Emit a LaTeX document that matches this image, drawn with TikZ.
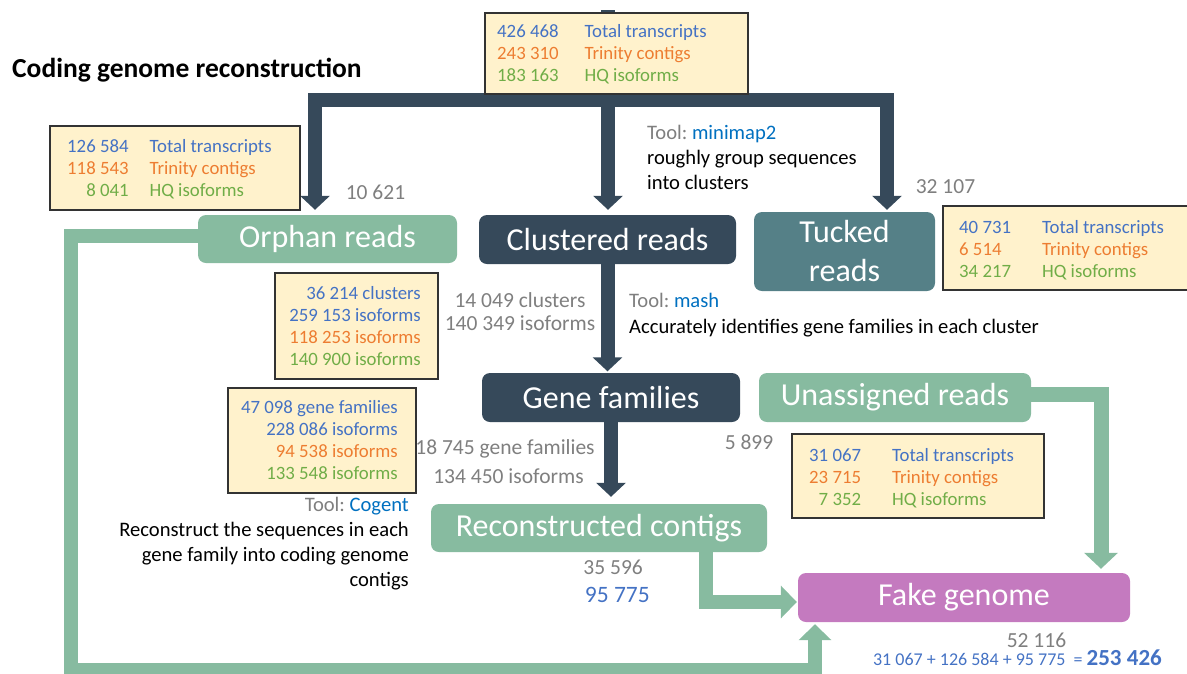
\documentclass[tikz,border=0pt]{standalone}
\usepackage{fontspec}
\setmainfont{Carlito}
\frenchspacing
\usetikzlibrary{arrows.meta}
\definecolor{dark}{HTML}{36495A}
\definecolor{lgreen}{HTML}{87BBA0}
\definecolor{teal}{HTML}{558087}
\definecolor{magenta}{HTML}{C47ABF}
\definecolor{infofill}{HTML}{FFF2CC}
\definecolor{tblue}{HTML}{4472C4}
\definecolor{torange}{HTML}{ED7D31}
\definecolor{tgreen}{HTML}{70AD47}
\definecolor{tgray}{HTML}{7F7F7F}
\definecolor{toolblue}{HTML}{0070C0}
\begin{document}
\begin{tikzpicture}[x=1pt,y=-1pt,
  mainbox/.style={rounded corners=8pt, text=white, inner sep=0pt,
    font=\fontsize{32}{39}\selectfont, align=center},
  infobox/.style={draw=black!80, line width=1.3pt, fill=infofill, inner sep=0pt},
  infotext/.style={inner sep=0pt, anchor=base west, font=\fontsize{18.8}{22}\selectfont},
  graytext/.style={inner sep=0pt, anchor=base, text=tgray, font=\fontsize{21.5}{23}\selectfont},
  tooltext/.style={inner sep=0pt, font=\fontsize{20.6}{25}\selectfont},
  darkarrow/.style={draw=dark, line width=14pt, line join=miter,
    -{Triangle[width=29pt,length=14pt]}},
  greenarrow/.style={draw=lgreen, line width=14pt, line join=miter,
    -{Triangle[width=32pt,length=16pt]}}
]
\useasboundingbox (0,0) rectangle (1187,673);

% coordinates of connector bends
\coordinate (c0) at (608,10);
\coordinate (c1) at (315,100);
\coordinate (c2) at (887,100);
\coordinate (o1) at (71,236);
\coordinate (o2) at (71,670);
\coordinate (o3) at (815,670);
\coordinate (u1) at (1101,394);
\coordinate (r1) at (706,602);

% main boxes
\node[mainbox, fill=lgreen, minimum width=259pt, minimum height=48pt] (orphan) at (327.5,239) {Orphan reads};
\node[mainbox, fill=dark, minimum width=257pt, minimum height=49pt] (clustered) at (607.5,239.5) {Clustered reads};
\node[mainbox, fill=teal, minimum width=181pt, minimum height=79pt] (tucked) at (844.5,251.5) {Tucked\\reads};
\node[mainbox, fill=dark, minimum width=258pt, minimum height=49pt] (gene) at (611,397.5) {Gene families};
\node[mainbox, fill=lgreen, minimum width=272pt, minimum height=49pt] (unassigned) at (895,397.5) {Unassigned reads};
\node[mainbox, fill=lgreen, minimum width=336pt, minimum height=48pt] (recon) at (599,528) {Reconstructed contigs};
\node[mainbox, fill=magenta, minimum width=332pt, minimum height=49pt] (fake) at (964,597.5) {Fake genome};

% dark connectors
\draw[darkarrow, shorten >=5pt] (c0) -- (clustered.north -| c0);
\draw[darkarrow, {Triangle[width=29pt,length=14pt]}-{Triangle[width=29pt,length=14pt]}, shorten <=5pt, shorten >=2pt]
  (orphan.north -| c1) -- (c1) -- (c2) -- (tucked.north -| c2);
\draw[darkarrow, shorten >=1.5pt] (clustered.south) -- (clustered.south |- gene.north);
\draw[darkarrow, shorten >=7pt] (gene.south) -- (gene.south |- recon.north);

% green connectors
\draw[greenarrow, shorten >=2pt] (orphan.west |- o1) -- (o1) -- (o2) -- (o3) -- (fake.south -| o3);
\draw[greenarrow, line width=15pt, -{Triangle[width=33pt,length=16pt]}, shorten >=4pt] (unassigned.east |- u1) -- (u1) -- (fake.north -| u1);
\draw[greenarrow, shorten >=1pt] (recon.south -| r1) -- (r1) -- (fake.west |- r1);

% info boxes
\node[infobox, minimum width=263pt, minimum height=81pt] (topbox) at (616.5,53.5) {};
\node[infotext] (toptext) at (497,37) {\begin{tabular}[t]{@{}r@{\hspace{26pt}}l@{}}
  \color{tblue}426 468 & \color{tblue}Total transcripts\\
  \color{torange}243 310 & \color{torange}Trinity contigs\\
  \color{tgreen}183 163 & \color{tgreen}HQ isoforms
\end{tabular}};

\node[infobox, minimum width=250pt, minimum height=84pt] (orphanbox) at (175,168) {};
\node[infotext] (orphantext) at (67,152.5) {\begin{tabular}[t]{@{}r@{\hspace{21pt}}l@{}}
  \color{tblue}126 584 & \color{tblue}Total transcripts\\
  \color{torange}118 543 & \color{torange}Trinity contigs\\
  \color{tgreen}8 041 & \color{tgreen}HQ isoforms
\end{tabular}};

\node[infobox, minimum width=250pt, minimum height=84pt] (tuckedbox) at (1068,248) {};
\node[infotext] (tuckedtext) at (959,233.5) {\begin{tabular}[t]{@{}l@{\hspace{31pt}}l@{}}
  \color{tblue}40 731 & \color{tblue}Total transcripts\\
  \color{torange}6 514 & \color{torange}Trinity contigs\\
  \color{tgreen}34 217 & \color{tgreen}HQ isoforms
\end{tabular}};

\node[infobox, minimum width=252pt, minimum height=84pt] (unassbox) at (918,476) {};
\node[infotext] (unasstext) at (809,461.5) {\begin{tabular}[t]{@{}r@{\hspace{31pt}}l@{}}
  \color{tblue}31 067 & \color{tblue}Total transcripts\\
  \color{torange}23 715 & \color{torange}Trinity contigs\\
  \color{tgreen}7 352 & \color{tgreen}HQ isoforms
\end{tabular}};

\node[infobox, minimum width=163pt, minimum height=106pt] (clusterbox) at (356.5,326) {};
\node[infotext, anchor=base east] (clustertext) at (421,299.5) {\begin{tabular}[t]{@{}r@{}}
  \color{tblue}36 214 clusters\\
  \color{tblue}259 153 isoforms\\
  \color{torange}118 253 isoforms\\
  \color{tgreen}140 900 isoforms
\end{tabular}};

\node[infobox, minimum width=188pt, minimum height=105pt] (genebox) at (322,440.5) {};
\node[infotext, anchor=base east] (genetext) at (398,413.5) {\begin{tabular}[t]{@{}r@{}}
  \color{tblue}47 098 gene families\\
  \color{tblue}228 086 isoforms\\
  \color{torange}94 538 isoforms\\
  \color{tgreen}133 548 isoforms
\end{tabular}};

% title
\node[inner sep=0pt, anchor=base west, font=\fontsize{27.5}{30}\selectfont\bfseries] (title) at (12,77) {Coding genome reconstruction};

% gray counts
\node[graytext] (n10621) at (375.5,199) {10 621};
\node[graytext] (n32107) at (945.5,193) {32 107};
\node[graytext] (nclust) at (520,307) {\begin{tabular}[t]{@{}c@{}}14 049 clusters\\140 349 isoforms\end{tabular}};
\node[graytext] (ngf) at (505,454) {18 745 gene families};
\node[graytext] (niso) at (508.5,483) {134 450 isoforms};
\node[graytext] (n5899) at (749,449) {5 899};
\node[graytext, anchor=base east] (n35596) at (643,574) {35 596};
\node[graytext, anchor=base east, text=tblue, font=\fontsize{23.5}{26}\selectfont] (n95775) at (650,602) {95 775};
\node[graytext] (n52116) at (1036.5,647) {52 116};
\node[inner sep=0pt, anchor=base east, text=tblue, font=\fontsize{18}{20}\selectfont] (nsum) at (1162,665)
  {31 067 + 126 584 + 95 775 \ = {\fontsize{23}{24}\selectfont\bfseries 253 426}};

% tool texts
\node[tooltext, anchor=base west] (tool1) at (647,139) {\begin{tabular}[t]{@{}l@{}}
  {\color{tgray}Tool:} {\color{toolblue}minimap2}\\
  roughly group sequences\\
  into clusters
\end{tabular}};
\node[tooltext, anchor=base west] (tool2) at (629,307) {\begin{tabular}[t]{@{}l@{}}
  {\color{tgray}Tool:} {\color{toolblue}mash}\\[1pt]
  Accurately identifies gene families in each cluster
\end{tabular}};
\node[tooltext, anchor=base east] (tool3) at (409,511) {\begin{tabular}[t]{@{}r@{}}
  {\color{tgray}Tool:} {\color{toolblue}Cogent}\\
  Reconstruct the sequences in each\\
  gene family into coding genome\\
  contigs
\end{tabular}};
\end{tikzpicture}
\end{document}
